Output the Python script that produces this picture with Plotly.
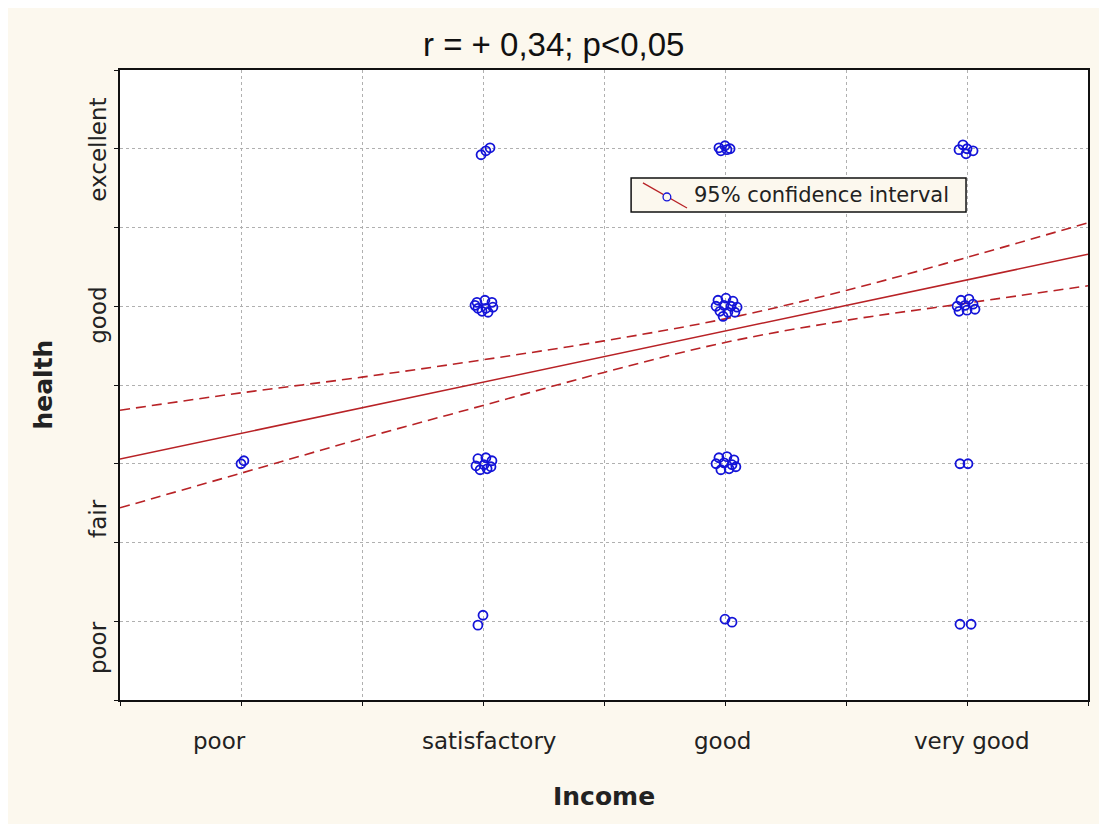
import plotly.graph_objects as go

# ---- data ----
income_levels = ["poor", "satisfactory", "good", "very good"]
health_levels = ["poor", "fair", "good", "excellent"]

# jittered observations (income code 1..4, health code 1..4)
income_vals = [
    2.029, 2.012, 1.992,
    1.975, 2.008, 2.037, 1.979, 2.012, 2.041, 1.996, 2.021, 1.967,
    1.979, 2.012, 2.037, 1.971, 2.004, 2.033, 1.988, 2.017,
    2.000, 1.979,
    2.975, 3.000, 3.021, 2.983, 3.008,
    2.971, 3.004, 3.033, 2.963, 2.996, 3.025, 3.050, 2.979, 3.012, 3.041, 2.992,
    2.975, 3.008, 3.037, 2.963, 2.996, 3.029, 2.983, 3.017, 3.045,
    3.000, 3.029,
    3.983, 3.967, 4.000, 4.025, 3.996,
    3.975, 4.008, 3.959, 3.992, 4.025, 3.967, 4.000, 4.033,
    3.971, 4.004,
    3.971, 4.017,
    1.012, 1.000,
]
health_vals = [
    4.006, 3.987, 3.962,
    3.025, 3.038, 3.025, 2.987, 2.987, 2.994, 2.968, 2.962, 3.006,
    2.032, 2.038, 2.019, 1.987, 1.994, 1.981, 1.962, 1.968,
    1.038, 0.975,
    4.006, 4.019, 4.000, 3.987, 3.994,
    3.038, 3.051, 3.032, 3.000, 3.006, 3.000, 2.994, 2.968, 2.962, 2.962, 2.936,
    2.038, 2.045, 2.025, 2.000, 2.006, 1.994, 1.962, 1.968, 1.981,
    1.013, 0.994,
    4.025, 3.994, 4.000, 3.987, 3.968,
    3.038, 3.045, 3.000, 3.006, 3.013, 2.968, 2.975, 2.981,
    2.000, 2.000,
    0.981, 0.981,
    2.019, 2.000,
]

# regression line and 95% confidence band
fit_x = [0.5, 4.5]
fit_y = [2.03, 3.33]
band_x = [0.5, 1.0, 1.5, 2.0, 2.5, 3.0, 3.5, 4.0, 4.5]
band_upper = [2.34, 2.45, 2.55, 2.66, 2.78, 2.92, 3.10, 3.31, 3.53]
band_lower = [1.72, 1.94, 2.16, 2.37, 2.58, 2.77, 2.91, 3.02, 3.13]

title_text = "r = + 0,34; p<0,05"
x_title = "Income"
y_title = "health"
legend_text = "95% confidence interval"

# ---- styles ----
CREAM = "#fcf8ee"
RED = "#b82226"
BLUE = "#1414d8"
TICK_FONT = dict(family="DejaVu Sans", size=23, color="#222222")

fig = go.Figure()

for yy in (band_upper, band_lower):
    fig.add_trace(go.Scatter(x=band_x, y=yy, mode="lines",
                             line=dict(color=RED, width=1.6, dash="10px,6px", shape="spline"),
                             showlegend=False, hoverinfo="skip"))
fig.add_trace(go.Scatter(x=fit_x, y=fit_y, mode="lines", line=dict(color=RED, width=1.6), showlegend=False))
fig.add_trace(go.Scatter(x=income_vals, y=health_vals, mode="markers",
                         marker=dict(symbol="circle-open", size=9, color=BLUE, line=dict(width=1.8, color=BLUE)),
                         showlegend=False))

# category labels
cat_x_pos = [0.91, 2.025, 2.99, 4.017]
for lab, xv in zip(income_levels, cat_x_pos):
    fig.add_annotation(x=xv, y=-0.065, xref="x", yref="paper", text=lab, showarrow=False,
                       font=TICK_FONT, xanchor="center", yanchor="middle")
cat_y_pos = [0.83, 1.65, 2.94, 3.994]
for lab, yv in zip(health_levels, cat_y_pos):
    fig.add_annotation(x=-0.0227, y=yv, xref="paper", yref="y", text=lab, showarrow=False, textangle=-90,
                       font=TICK_FONT, xanchor="center", yanchor="middle")

# axis titles & title
fig.add_annotation(x=0.5, y=-0.153, xref="paper", yref="paper", text="<b>%s</b>" % x_title, showarrow=False,
                   font=dict(family="DejaVu Sans", size=25, color="#222222"), xanchor="center", yanchor="middle")
fig.add_annotation(x=-0.08, y=0.5, xref="paper", yref="paper", text="<b>%s</b>" % y_title, showarrow=False,
                   textangle=-90, font=dict(family="DejaVu Sans", size=25, color="#222222"),
                   xanchor="center", yanchor="middle")
fig.add_annotation(x=0.448, y=1.04, xref="paper", yref="paper", text=title_text, showarrow=False,
                   font=dict(family="Liberation Sans", size=33, color="#111111"), xanchor="center", yanchor="middle")

# legend box (drawn manually to reproduce the diagonal key)
fig.add_shape(type="rect", xref="x", yref="y", x0=2.612, x1=3.996, y0=3.598, y1=3.814,
              fillcolor=CREAM, line=dict(color="#111111", width=1.5), layer="above")
fig.add_shape(type="line", xref="x", yref="y", x0=2.661, y0=3.783, x1=2.843, y1=3.624,
              line=dict(color=RED, width=1.3), layer="above")
fig.add_shape(type="circle", xref="x", yref="y", x0=2.744, x1=2.776, y0=3.669, y1=3.719,
              fillcolor=CREAM, line=dict(color=BLUE, width=1.3), layer="above")
fig.add_annotation(x=2.864, y=3.706, xref="x", yref="y", text=legend_text, showarrow=False,
                   font=dict(family="DejaVu Sans", size=21, color="#222222"), xanchor="left", yanchor="middle")

axis_common = dict(showline=True, linecolor="#111111", linewidth=1.5, mirror=True,
                   showgrid=True, gridcolor="#b0b0b0", griddash="dot", gridwidth=1,
                   zeroline=False, showticklabels=False, ticks="outside", ticklen=4,
                   tickcolor="#111111", tick0=0.5, dtick=0.5)
fig.update_xaxes(range=[0.5, 4.5], **axis_common)
fig.update_yaxes(range=[0.5, 4.5], **axis_common)

fig.update_layout(width=1099, height=816, margin=dict(l=112, r=19, t=62, b=124),
                  paper_bgcolor=CREAM, plot_bgcolor="white", showlegend=False)

fig.write_html("out.html")
